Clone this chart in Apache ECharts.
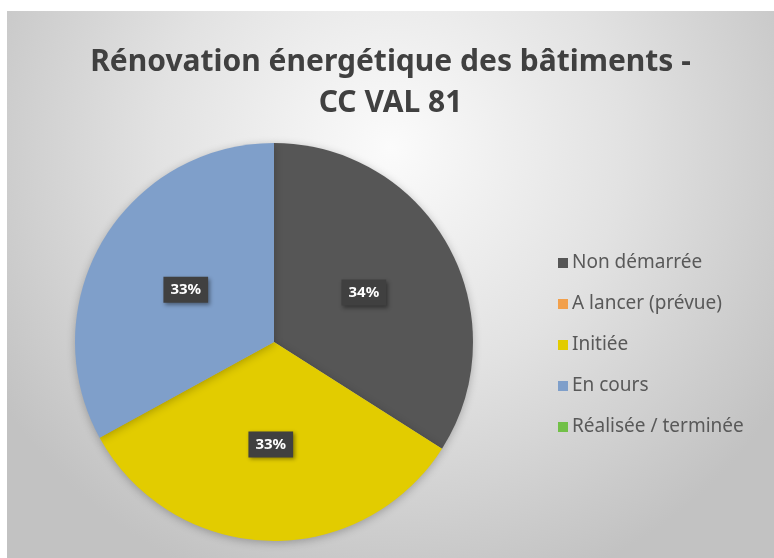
<!DOCTYPE html>
<html>
<head>
<meta charset="utf-8">
<script src="https://cdn.jsdelivr.net/npm/echarts@6/dist/echarts.min.js"></script>
<style>
html,body{margin:0;padding:0;background:#fff;width:774px;height:558px;overflow:hidden;}
#chart{position:absolute;left:7px;top:11px;width:767px;height:547px;}
</style>
</head>
<body>
<div id="chart"></div>
<script>
const titleLines = ['Rénovation énergétique des bâtiments -', 'CC VAL 81'];
const categories = ['Non démarrée', 'A lancer (prévue)', 'Initiée', 'En cours', 'Réalisée / terminée'];
const values = [34, 0, 33, 33, 0];
const colors = ['#565656', '#f2a04c', '#e2cc00', '#7f9fca', '#72c048'];

const chart = echarts.init(document.getElementById('chart'));
const data = categories.map((name, i) => {
  const item = { name: name, value: values[i], itemStyle: { color: colors[i] } };
  if (values[i] === 0) item.label = { show: false };
  return item;
});

chart.setOption({
  backgroundColor: {
    type: 'radial', x: 0.5, y: 0.25, r: 0.85,
    colorStops: [
      { offset: 0, color: '#fbfbfb' },
      { offset: 0.5, color: '#e2e2e2' },
      { offset: 1, color: '#c2c2c2' }
    ]
  },
  title: {
    text: titleLines.join('\n'),
    left: 'center',
    top: 26,
    textStyle: {
      fontFamily: 'Noto Sans',
      fontSize: 30,
      fontWeight: 'bold',
      color: '#404040',
      lineHeight: 41
    }
  },
  legend: {
    orient: 'vertical',
    left: 546,
    top: 237,
    itemWidth: 10,
    itemHeight: 10,
    itemGap: 21,
    icon: 'rect',
    data: categories,
    selectedMode: false,
    textStyle: { fontFamily: 'Noto Sans', fontSize: 19, color: '#595959', lineHeight: 20, padding: [0,0,0,-1] }
  },
  series: [{
    type: 'pie',
    center: [267, 331],
    radius: [0, 199],
    startAngle: 90,
    clockwise: true,
    avoidLabelOverlap: false,
    silent: true,
    itemStyle: {
      borderWidth: 0,
      shadowBlur: 8,
      shadowColor: 'rgba(0,0,0,0.25)',
      shadowOffsetY: 2
    },
    label: {
      show: true,
      position: 'inside',
      formatter: '{d}%',
      fontFamily: 'Noto Sans',
      fontSize: 15,
      fontWeight: 'bold',
      color: '#ffffff',
      backgroundColor: '#404040',
      padding: [6, 7, 5, 7],
      shadowBlur: 4,
      shadowColor: 'rgba(0,0,0,0.4)',
      shadowOffsetX: 2,
      shadowOffsetY: 2
    },
    labelLine: { show: false },
    data: data
  }]
});
</script>
</body>
</html>
